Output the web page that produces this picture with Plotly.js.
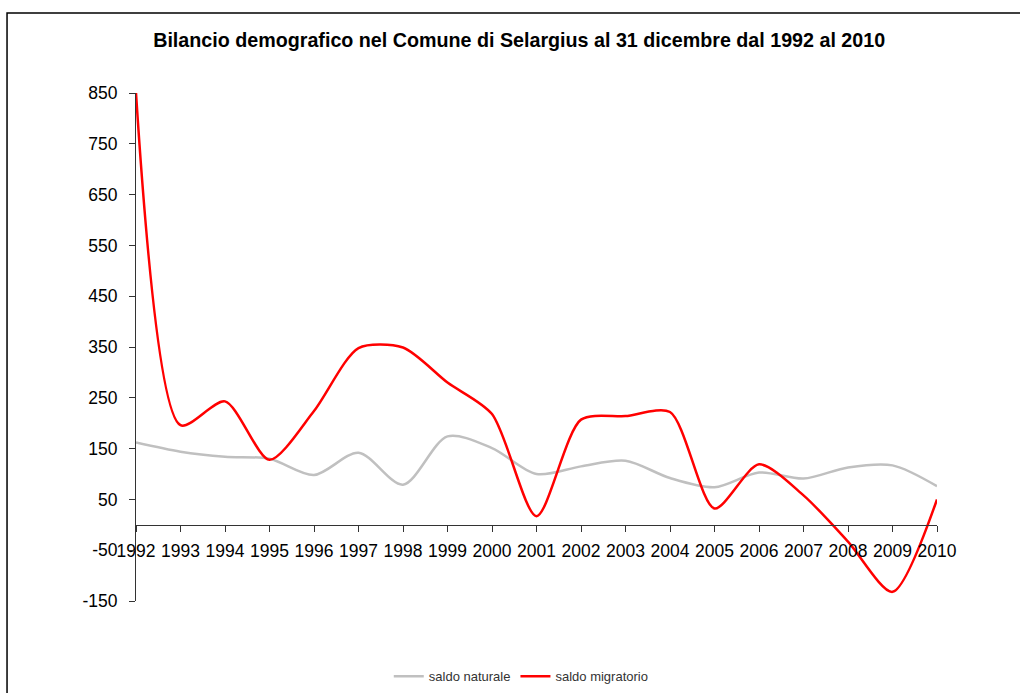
<!DOCTYPE html>
<html>
<head>
<meta charset="utf-8">
<script src="https://cdn.plot.ly/plotly-3.0.1.min.js"></script>
<style>
  html, body { margin: 0; padding: 0; background: #fff; }
  #chart { width: 1020px; height: 693px; }
</style>
</head>
<body>
<div id="chart"></div>
<script>
// Anni e saldi
const anni = [1992, 1993, 1994, 1995, 1996, 1997, 1998, 1999, 2000, 2001,
              2002, 2003, 2004, 2005, 2006, 2007, 2008, 2009, 2010];
const saldoNaturale = [162, 144, 134, 130, 98, 142, 79, 174, 151, 100,
                       115, 126, 92, 74, 103, 91, 113, 117, 76];
const saldoMigratorio = [850, 196, 243, 128, 224, 348, 349, 280, 218, 17,
                         207, 214, 222, 32, 119, 58, -33, -132, 50];
const yTicks = [-150, -50, 50, 150, 250, 350, 450, 550, 650, 750, 850];
const yTickText = ['-150', '-50', '50', '150', '250', '350', '450', '550', '650', '750', '850'];

function disegna() {
    let trace1 = {
        x: anni,
        y: saldoNaturale,
        type: 'scatter',
        mode: 'lines',
        name: 'saldo naturale',
        line: { color: '#c0c0c0', width: 2.5, shape: 'spline', smoothing: 0.85 }
    };
    let trace2 = {
        x: anni,
        y: saldoMigratorio,
        type: 'scatter',
        mode: 'lines',
        name: 'saldo migratorio',
        line: { color: '#ff0000', width: 2.5, shape: 'spline', smoothing: 0.75 }
    };

    let layout = {
        width: 1020,
        height: 693,
        margin: { l: 136, r: 83, t: 93, b: 92, autoexpand: false },
        paper_bgcolor: '#ffffff',
        plot_bgcolor: '#ffffff',
        font: { family: 'Liberation Sans, Arial, sans-serif', color: '#000' },
        title: {
            text: '<b>Bilancio demografico nel Comune di Selargius al 31 dicembre dal 1992 al 2010</b>',
            font: { size: 19.7, color: '#000' },
            x: 0.509,
            xanchor: 'center',
            y: 0.942,
            yanchor: 'middle'
        },
        xaxis: {
            range: [1992, 2010],
            tickmode: 'array',
            tickvals: anni,
            ticktext: anni.map(String),
            showgrid: false,
            zeroline: false,
            showline: true,
            linecolor: '#333',
            linewidth: 1,
            ticks: 'outside',
            ticklen: 6,
            tickcolor: '#333',
            tickfont: { size: 17.5 },
            ticklabelstandoff: 4,
            anchor: 'free',
            position: 0.15
        },
        yaxis: {
            range: [-150, 850],
            tickmode: 'array',
            tickvals: yTicks,
            ticktext: yTickText,
            showgrid: false,
            zeroline: false,
            showline: true,
            linecolor: '#333',
            linewidth: 1,
            ticks: 'outside',
            ticklen: 6,
            tickcolor: '#333',
            tickfont: { size: 17.5 },
            ticklabelstandoff: 8
        },
        showlegend: true,
        legend: {
            orientation: 'h',
            x: 0.481,
            xanchor: 'center',
            y: -0.148,
            yanchor: 'middle',
            font: { size: 13, color: '#333' },
            itemwidth: 30
        },
        shapes: [{
            type: 'rect',
            xref: 'paper',
            yref: 'paper',
            x0: -0.161,
            x1: 1.3,
            y0: -0.4,
            y1: 1.1575,
            line: { color: '#000', width: 1.5 }
        }]
    };

    Plotly.newPlot('chart', [trace1, trace2], layout, { displayModeBar: false, staticPlot: true });
}

document.addEventListener("DOMContentLoaded", disegna);
</script>
</body>
</html>
